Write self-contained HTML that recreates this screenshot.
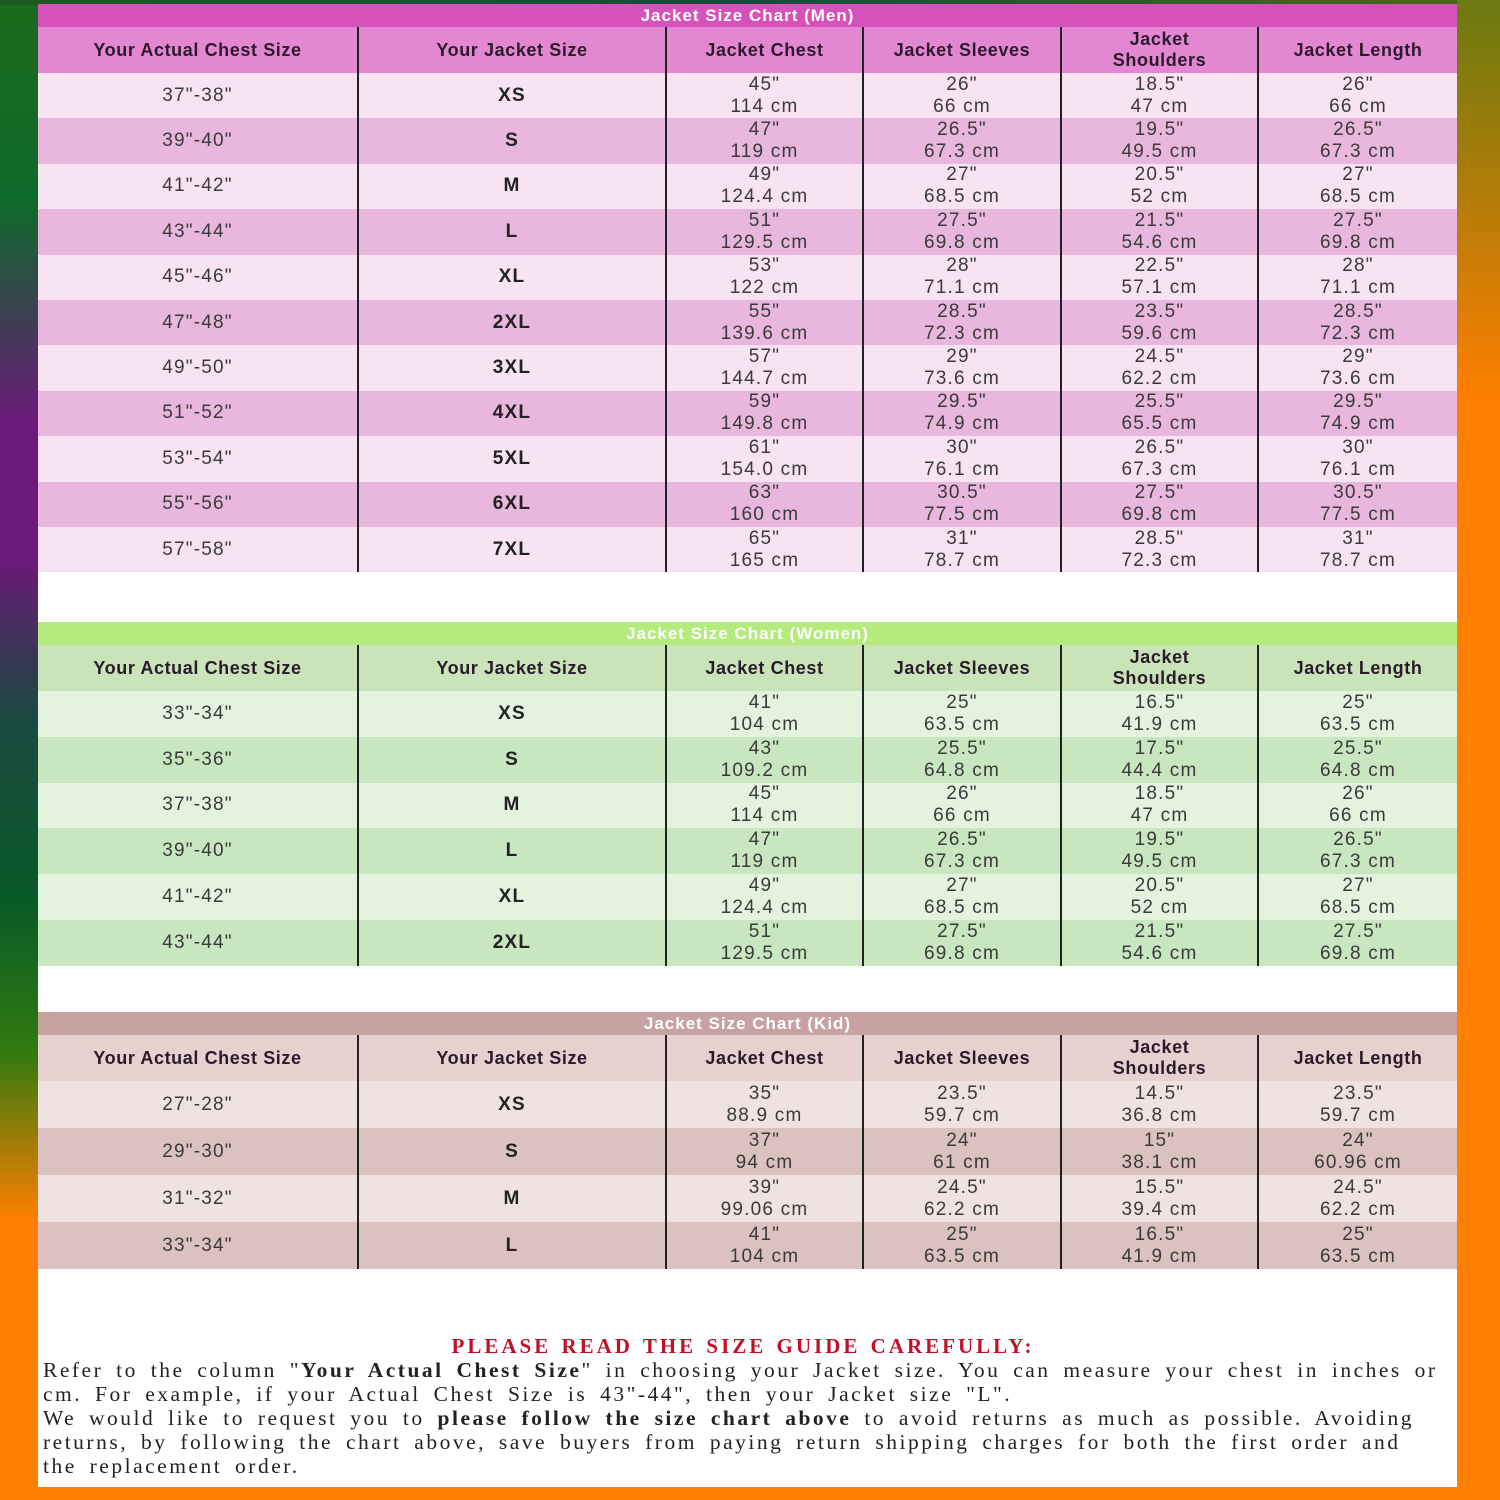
<!DOCTYPE html>
<html><head><meta charset="utf-8"><style>
*{margin:0;padding:0;box-sizing:border-box}
body{width:1500px;height:1500px;position:relative;overflow:hidden;background:#ff7f00;font-family:"Liberation Sans",sans-serif}
#left{position:absolute;left:0;top:0;width:38px;height:1500px;background:linear-gradient(180deg,#1d6a1d 0,#0e6a2a 200px,#6a1a78 420px,#6a1a78 560px,#1a4a40 720px,#0a5a28 900px,#2f7a10 1050px,#ff7f00 1220px,#ff7f00 1500px)}
#top{position:absolute;left:0;top:0;width:1500px;height:5px;background:linear-gradient(90deg,#1d5a1d,#1c4a3a,#4a6a10)}
#rt{position:absolute;left:1457px;top:0;width:43px;height:400px;background:linear-gradient(180deg,#6a7a10,#ff7f00)}
#panel{position:absolute;left:38px;top:4px;width:1419px;height:1483px;background:#fff}
.sec{position:absolute;left:0;width:1419px}
.ttl{height:23px;color:#fff;font-weight:bold;font-size:17px;text-align:center;line-height:23px;letter-spacing:1px}
table{border-collapse:collapse;table-layout:fixed;width:1419px}
td{text-align:center;font-size:19px;color:#3a3a3a;line-height:22px;letter-spacing:1.2px;border-left:2px solid #222;padding:0}
td:first-child{border-left:none}
tr.h td{font-weight:bold;color:#2b1a2b;height:46px;font-size:18px;letter-spacing:.6px;line-height:21px}
td.b{font-weight:bold;color:#222}
.m .ttl{background:#d552ba}.m tr.h td{background:#e487d3}.m tr.a td{background:#f7e3f2}.m tr.c td{background:#e9b6dd}
.w .ttl{background:#b5ea7c}.w tr.h td{background:#c8e4b8}.w tr.a td{background:#e4f3de}.w tr.c td{background:#c8e6bf}
.k .ttl{background:#c8a1a1}.k tr.h td{background:#e6d0d0}.k tr.a td{background:#f0e2e2}.k tr.c td{background:#dcc1c1}
.m tr.a td,.m tr.c td{height:45.4px}
.w tr.a td,.w tr.c td{height:45.8px}
.k tr.a td,.k tr.c td{height:47px}
#note{position:absolute;left:5px;top:1330px;width:1410px;font-family:"Liberation Serif",serif;font-size:21.5px;color:#222;line-height:24px;letter-spacing:2.5px;word-spacing:5px;white-space:nowrap}
#note h3{color:#c0102a;text-align:center;font-size:21px;letter-spacing:3px;word-spacing:2px;line-height:24px;padding-right:10px}
</style></head><body>
<div id="left"></div><div id="top"></div><div id="rt"></div>
<div id="panel">
<div class="sec m" style="top:0">
<div class="ttl">Jacket Size Chart (Men)</div>
<table><colgroup><col style="width:320px"><col style="width:308px"><col style="width:197px"><col style="width:198px"><col style="width:197px"><col style="width:199px"></colgroup>
<tr class="h"><td>Your Actual Chest Size</td><td>Your Jacket Size</td><td>Jacket Chest</td><td>Jacket Sleeves</td><td>Jacket<br>Shoulders</td><td>Jacket Length</td></tr>
<tr class="a"><td>37"-38"</td><td class="b">XS</td><td>45"<br>114 cm</td><td>26"<br>66 cm</td><td>18.5"<br>47 cm</td><td>26"<br>66 cm</td></tr>
<tr class="c"><td>39"-40"</td><td class="b">S</td><td>47"<br>119 cm</td><td>26.5"<br>67.3 cm</td><td>19.5"<br>49.5 cm</td><td>26.5"<br>67.3 cm</td></tr>
<tr class="a"><td>41"-42"</td><td class="b">M</td><td>49"<br>124.4 cm</td><td>27"<br>68.5 cm</td><td>20.5"<br>52 cm</td><td>27"<br>68.5 cm</td></tr>
<tr class="c"><td>43"-44"</td><td class="b">L</td><td>51"<br>129.5 cm</td><td>27.5"<br>69.8 cm</td><td>21.5"<br>54.6 cm</td><td>27.5"<br>69.8 cm</td></tr>
<tr class="a"><td>45"-46"</td><td class="b">XL</td><td>53"<br>122 cm</td><td>28"<br>71.1 cm</td><td>22.5"<br>57.1 cm</td><td>28"<br>71.1 cm</td></tr>
<tr class="c"><td>47"-48"</td><td class="b">2XL</td><td>55"<br>139.6 cm</td><td>28.5"<br>72.3 cm</td><td>23.5"<br>59.6 cm</td><td>28.5"<br>72.3 cm</td></tr>
<tr class="a"><td>49"-50"</td><td class="b">3XL</td><td>57"<br>144.7 cm</td><td>29"<br>73.6 cm</td><td>24.5"<br>62.2 cm</td><td>29"<br>73.6 cm</td></tr>
<tr class="c"><td>51"-52"</td><td class="b">4XL</td><td>59"<br>149.8 cm</td><td>29.5"<br>74.9 cm</td><td>25.5"<br>65.5 cm</td><td>29.5"<br>74.9 cm</td></tr>
<tr class="a"><td>53"-54"</td><td class="b">5XL</td><td>61"<br>154.0 cm</td><td>30"<br>76.1 cm</td><td>26.5"<br>67.3 cm</td><td>30"<br>76.1 cm</td></tr>
<tr class="c"><td>55"-56"</td><td class="b">6XL</td><td>63"<br>160 cm</td><td>30.5"<br>77.5 cm</td><td>27.5"<br>69.8 cm</td><td>30.5"<br>77.5 cm</td></tr>
<tr class="a"><td>57"-58"</td><td class="b">7XL</td><td>65"<br>165 cm</td><td>31"<br>78.7 cm</td><td>28.5"<br>72.3 cm</td><td>31"<br>78.7 cm</td></tr>
</table></div>

<div class="sec w" style="top:618px">
<div class="ttl">Jacket Size Chart (Women)</div>
<table><colgroup><col style="width:320px"><col style="width:308px"><col style="width:197px"><col style="width:198px"><col style="width:197px"><col style="width:199px"></colgroup>
<tr class="h"><td>Your Actual Chest Size</td><td>Your Jacket Size</td><td>Jacket Chest</td><td>Jacket Sleeves</td><td>Jacket<br>Shoulders</td><td>Jacket Length</td></tr>
<tr class="a"><td>33"-34"</td><td class="b">XS</td><td>41"<br>104 cm</td><td>25"<br>63.5 cm</td><td>16.5"<br>41.9 cm</td><td>25"<br>63.5 cm</td></tr>
<tr class="c"><td>35"-36"</td><td class="b">S</td><td>43"<br>109.2 cm</td><td>25.5"<br>64.8 cm</td><td>17.5"<br>44.4 cm</td><td>25.5"<br>64.8 cm</td></tr>
<tr class="a"><td>37"-38"</td><td class="b">M</td><td>45"<br>114 cm</td><td>26"<br>66 cm</td><td>18.5"<br>47 cm</td><td>26"<br>66 cm</td></tr>
<tr class="c"><td>39"-40"</td><td class="b">L</td><td>47"<br>119 cm</td><td>26.5"<br>67.3 cm</td><td>19.5"<br>49.5 cm</td><td>26.5"<br>67.3 cm</td></tr>
<tr class="a"><td>41"-42"</td><td class="b">XL</td><td>49"<br>124.4 cm</td><td>27"<br>68.5 cm</td><td>20.5"<br>52 cm</td><td>27"<br>68.5 cm</td></tr>
<tr class="c"><td>43"-44"</td><td class="b">2XL</td><td>51"<br>129.5 cm</td><td>27.5"<br>69.8 cm</td><td>21.5"<br>54.6 cm</td><td>27.5"<br>69.8 cm</td></tr>
</table></div>

<div class="sec k" style="top:1008px">
<div class="ttl">Jacket Size Chart (Kid)</div>
<table><colgroup><col style="width:320px"><col style="width:308px"><col style="width:197px"><col style="width:198px"><col style="width:197px"><col style="width:199px"></colgroup>
<tr class="h"><td>Your Actual Chest Size</td><td>Your Jacket Size</td><td>Jacket Chest</td><td>Jacket Sleeves</td><td>Jacket<br>Shoulders</td><td>Jacket Length</td></tr>
<tr class="a"><td>27"-28"</td><td class="b">XS</td><td>35"<br>88.9 cm</td><td>23.5"<br>59.7 cm</td><td>14.5"<br>36.8 cm</td><td>23.5"<br>59.7 cm</td></tr>
<tr class="c"><td>29"-30"</td><td class="b">S</td><td>37"<br>94 cm</td><td>24"<br>61 cm</td><td>15"<br>38.1 cm</td><td>24"<br>60.96 cm</td></tr>
<tr class="a"><td>31"-32"</td><td class="b">M</td><td>39"<br>99.06 cm</td><td>24.5"<br>62.2 cm</td><td>15.5"<br>39.4 cm</td><td>24.5"<br>62.2 cm</td></tr>
<tr class="c"><td>33"-34"</td><td class="b">L</td><td>41"<br>104 cm</td><td>25"<br>63.5 cm</td><td>16.5"<br>41.9 cm</td><td>25"<br>63.5 cm</td></tr>
</table></div>

<div id="note"><h3>PLEASE READ THE SIZE GUIDE CAREFULLY:</h3>
Refer to the column "<b>Your Actual Chest Size</b>" in choosing your Jacket size. You can measure your chest in inches or<br>
cm. For example, if your Actual Chest Size is 43"-44", then your Jacket size "L".<br>
We would like to request you to <b>please follow the size chart above</b> to avoid returns as much as possible. Avoiding<br>
returns, by following the chart above, save buyers from paying return shipping charges for both the first order and<br>
the replacement order.
</div>
</div>
</body></html>
